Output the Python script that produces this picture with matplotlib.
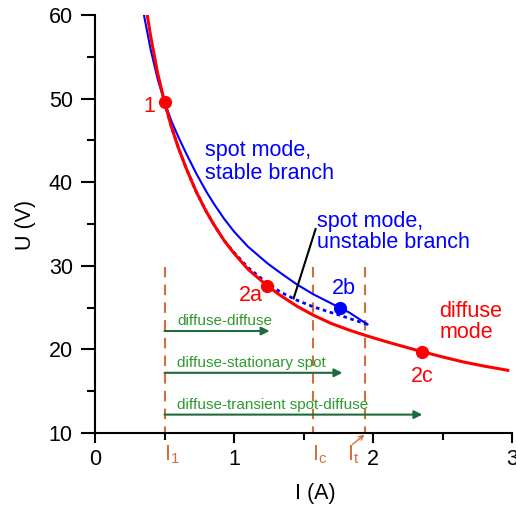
import matplotlib
matplotlib.use("Agg")
import matplotlib.pyplot as plt

plt.rcParams['font.family'] = ['Liberation Sans', 'DejaVu Sans']
plt.rcParams['mathtext.default'] = 'regular'

# diffuse mode (red)
red_I = [0.376, 0.40, 0.45, 0.50, 0.55, 0.60, 0.66, 0.73, 0.80, 0.86, 0.93, 1.00, 1.10, 1.24,
         1.33, 1.45, 1.57, 1.70, 1.83, 1.96, 2.10, 2.25, 2.36, 2.50, 2.65, 2.80, 2.97]
red_U = [60.0, 57.5, 53.1, 49.6, 46.6, 44.1, 41.5, 38.8, 36.5, 34.8, 33.0, 31.5, 29.6, 27.6,
         26.5, 25.2, 24.1, 23.1, 22.3, 21.6, 20.9, 20.2, 19.7, 19.1, 18.5, 18.0, 17.5]

# spot mode, stable branch (blue solid)
blue_I = [0.352, 0.40, 0.45, 0.50, 0.55, 0.60, 0.66, 0.73, 0.80, 0.86, 0.93, 1.00, 1.10, 1.24,
          1.33, 1.45, 1.57, 1.70, 1.76, 1.83, 1.96]
blue_U = [60.0, 55.9, 52.4, 49.6, 47.3, 45.4, 43.3, 41.0, 38.9, 37.3, 35.6, 34.1, 32.3, 30.3,
          29.2, 27.8, 26.6, 25.5, 25.0, 24.4, 23.0]

# spot mode, unstable branch (blue dotted)
unst_I = [0.50, 0.55, 0.60, 0.66, 0.73, 0.80, 0.86, 0.93, 1.00, 1.10, 1.24, 1.33, 1.45, 1.57,
          1.70, 1.76, 1.83, 1.96]
unst_U = [49.6, 46.6, 44.1, 41.5, 38.8, 36.5, 34.8, 33.0, 31.6, 29.8, 27.9, 26.9, 25.9, 25.1,
          24.4, 24.1, 23.7, 23.0]

# marked states
pts_red = {"1": (0.5, 49.6), "2a": (1.24, 27.6), "2c": (2.355, 19.7)}
pt_2b = (1.76, 25.0)

# characteristic currents
I_1, I_c, I_t = 0.5, 1.57, 1.945

# transitions (label, end current, level)
trans_labels = ["diffuse-diffuse", "diffuse-stationary spot", "diffuse-transient spot-diffuse"]
trans_end = [1.256, 1.78, 2.355]
trans_U = [22.2, 17.2, 12.2]

orange = '#d2703c'
green_txt = '#2e9a2e'
green_arr = '#1e6b3c'

fig = plt.figure(figsize=(5.16, 5.07), dpi=100)
ax = fig.add_axes([95/516, 1 - 433/507, 417/516, 418/507])

ax.plot(blue_I, blue_U, color='blue', lw=1.5, zorder=3)
ax.plot(unst_I, unst_U, color='blue', lw=2.0, ls=(0, (1.3, 1.3)), zorder=3)
ax.plot(red_I, red_U, color='red', lw=2.2, zorder=4)

for name, (x, y) in pts_red.items():
    ax.plot(x, y, 'o', color='red', ms=8.5, zorder=5)
ax.plot(*pt_2b, 'o', color='blue', ms=8.5, zorder=5)

# vertical dashed lines
for xv in [I_1, I_c, I_t]:
    ax.plot([xv, xv], [29.8, 10], color=orange, lw=1.5, ls=(0, (5, 3.5)), zorder=2, clip_on=False)

# transitions
for lab, xe, yv in zip(trans_labels, trans_end, trans_U):
    ax.annotate('', xy=(xe, yv), xytext=(I_1, yv),
                arrowprops=dict(arrowstyle='-|>', color=green_arr, lw=1.5, mutation_scale=12,
                                shrinkA=0, shrinkB=0), zorder=3)
    ax.text(0.59, yv + 1.15, lab, color=green_txt, fontsize=11, ha='left', va='center')

# labels
fs = 15.5
ax.text(0.43, 49.0, '1', color='red', fontsize=fs, ha='right', va='center')
ax.text(1.12, 26.4, '2a', color='red', fontsize=fs, ha='center', va='center')
ax.text(1.79, 27.3, '2b', color='blue', fontsize=fs, ha='center', va='center')
ax.text(2.355, 16.75, '2c', color='red', fontsize=fs, ha='center', va='center')
ax.text(2.477, 23.3, 'diffuse\nmode', color='red', fontsize=fs, ha='left', va='center', linespacing=1.0)
ax.text(0.79, 42.4, 'spot mode,\nstable branch', color='blue', fontsize=fs, ha='left', va='center', linespacing=1.1)
ax.text(1.60, 34.0, 'spot mode,\nunstable branch', color='blue', fontsize=fs, ha='left', va='center', linespacing=1.0)
ax.plot([1.587, 1.429], [34.4, 26.1], color='black', lw=1.5, zorder=4)

# current labels below axis
ax.text(I_1, 7.4, '$I_1$', color=orange, fontsize=fs, ha='left', va='center', clip_on=False)
ax.text(I_c - 0.01, 7.4, '$I_c$', color=orange, fontsize=fs, ha='left', va='center', clip_on=False)
ax.text(1.81, 7.4, '$I_t$', color=orange, fontsize=fs, ha='left', va='center', clip_on=False)
ax.annotate('', xy=(1.938, 9.8), xytext=(1.852, 8.63), annotation_clip=False,
            arrowprops=dict(arrowstyle='->', color=orange, lw=1.0, mutation_scale=8, shrinkA=0, shrinkB=0))

ax.set_xlim(0, 3)
ax.set_ylim(10, 60)
ax.set_xticks([0, 1, 2, 3])
ax.set_xticks([0.5, 1.5, 2.5], minor=True)
ax.set_yticks([10, 20, 30, 40, 50, 60])
ax.set_yticks([15, 25, 35, 45, 55], minor=True)
for s in ['top', 'right']:
    ax.spines[s].set_visible(False)
for s in ['left', 'bottom']:
    ax.spines[s].set_linewidth(1.5)
ax.tick_params(axis='y', which='major', length=10, width=1.5, pad=6, labelsize=fs)
ax.tick_params(axis='y', which='minor', length=6, width=1.5)
ax.tick_params(axis='x', which='major', length=7.5, width=1.5, pad=4, labelsize=fs)
ax.tick_params(axis='x', which='minor', length=5, width=1.5)

fig.text(25/516, 1 - 225/507, 'U (V)', rotation=90, fontsize=fs, ha='center', va='center')
fig.text(315/516, 1 - 493/507, 'I (A)', fontsize=fs, ha='center', va='center')

fig.savefig('out.png', dpi=100)
